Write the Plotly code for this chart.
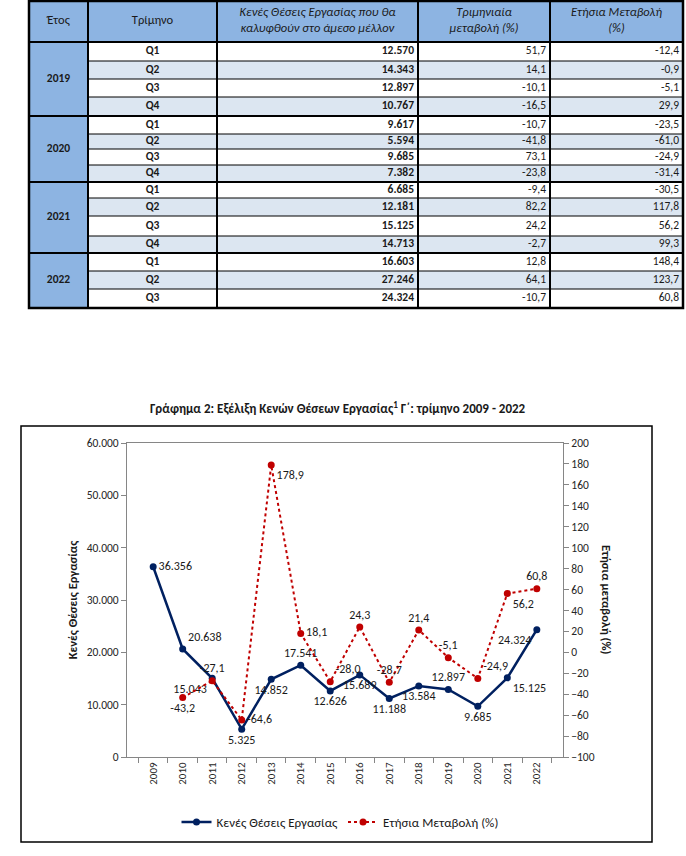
import plotly.graph_objects as go

# ---------------- data ----------------
YEARS = ["2009", "2010", "2011", "2012", "2013", "2014", "2015",
         "2016", "2017", "2018", "2019", "2020", "2021", "2022"]
VACANCIES = [36356, 20638, 15043, 5325, 14852, 17541, 12626,
             15689, 11188, 13584, 12897, 9685, 15125, 24324]
ANNUAL_CHANGE = [None, -43.2, -27.1, -64.6, 178.9, 18.1, -28.0,
                 24.3, -28.7, 21.4, -5.1, -24.9, 56.2, 60.8]

TABLE_HEADERS = ["Έτος", "Τρίμηνο",
                 "<i>Κενές Θέσεις Εργασίας που θα<br>καλυφθούν στο άμεσο μέλλον</i>",
                 "<i>Τριμηνιαία<br>μεταβολή (%)</i>",
                 "<i>Ετήσια Μεταβολή<br>(%)</i>"]
TABLE_YEARS = ["2019", "2020", "2021", "2022"]
TABLE_ROW_YEAR = ["2019", "2019", "2019", "2019", "2020", "2020", "2020", "2020",
                  "2021", "2021", "2021", "2021", "2022", "2022", "2022"]
TABLE_QUARTERS = ["Q1", "Q2", "Q3", "Q4", "Q1", "Q2", "Q3", "Q4",
                  "Q1", "Q2", "Q3", "Q4", "Q1", "Q2", "Q3"]
TABLE_VACANCIES = [12570, 14343, 12897, 10767, 9617, 5594, 9685, 7382,
                   6685, 12181, 15125, 14713, 16603, 27246, 24324]
TABLE_QOQ = [51.7, 14.1, -10.1, -16.5, -10.7, -41.8, 73.1, -23.8,
             -9.4, 82.2, 24.2, -2.7, 12.8, 64.1, -10.7]
TABLE_YOY = [-12.4, -0.9, -5.1, 29.9, -23.5, -61.0, -24.9, -31.4,
             -30.5, 117.8, 56.2, 99.3, 148.4, 123.7, 60.8]

# ---------------- layout constants (page pixels) ----------------
W, H = 686, 856


def px(x):
    return x / W


def py(y):
    return 1 - y / H


FONT = "Carlito, Lato, 'Noto Sans', sans-serif"
NAVY = "#002060"
RED = "#C00000"
HEAD_BLUE = "#8DB4E2"
ROW_BLUE = "#DCE6F1"
COL_EDGES = [29, 88, 217, 418, 550, 683]
TABLE_TOP = 1
HEADER_BOTTOM = 42
ROW_H = [19, 18, 18, 19, 18, 15, 16, 17, 16, 18, 20, 17, 18, 18, 19]

row_edges = [HEADER_BOTTOM]
for h in ROW_H:
    row_edges.append(row_edges[-1] + h)
row_mid = [(row_edges[i] + row_edges[i + 1]) / 2 for i in range(len(ROW_H))]
TABLE_BOTTOM = row_edges[-1]

fig = go.Figure()

# ---------------- table (drawn on a page-pixel axis pair x3/y3) ----------------
shapes = []
shapes.append(dict(type="rect", xref="x3", yref="y3", x0=COL_EDGES[0], x1=COL_EDGES[-1],
                   y0=TABLE_TOP, y1=HEADER_BOTTOM, fillcolor=HEAD_BLUE, line_width=0, layer="below"))
shapes.append(dict(type="rect", xref="x3", yref="y3", x0=COL_EDGES[0], x1=COL_EDGES[1],
                   y0=HEADER_BOTTOM, y1=TABLE_BOTTOM, fillcolor=HEAD_BLUE, line_width=0, layer="below"))
for i in range(len(ROW_H)):
    shapes.append(dict(type="rect", xref="x3", yref="y3", x0=COL_EDGES[1], x1=COL_EDGES[-1],
                       y0=row_edges[i], y1=row_edges[i + 1],
                       fillcolor=("white" if i % 2 == 0 else ROW_BLUE), line_width=0, layer="below"))
group_breaks = set()
for i in range(1, len(TABLE_ROW_YEAR)):
    if TABLE_ROW_YEAR[i] != TABLE_ROW_YEAR[i - 1]:
        group_breaks.add(i)
for i in range(1, len(ROW_H)):
    if i in group_breaks:
        shapes.append(dict(type="line", xref="x3", yref="y3", x0=COL_EDGES[0], x1=COL_EDGES[-1],
                           y0=row_edges[i], y1=row_edges[i], line=dict(color="black", width=2)))
    else:
        shapes.append(dict(type="line", xref="x3", yref="y3", x0=COL_EDGES[1], x1=COL_EDGES[-1],
                           y0=row_edges[i], y1=row_edges[i], line=dict(color="black", width=1)))
shapes.append(dict(type="line", xref="x3", yref="y3", x0=COL_EDGES[0], x1=COL_EDGES[-1],
                   y0=HEADER_BOTTOM, y1=HEADER_BOTTOM, line=dict(color="black", width=2)))
for xe in COL_EDGES[1:-1]:
    shapes.append(dict(type="line", xref="x3", yref="y3", x0=xe, x1=xe,
                       y0=TABLE_TOP, y1=TABLE_BOTTOM, line=dict(color="black", width=2)))
shapes.append(dict(type="rect", xref="x3", yref="y3", x0=COL_EDGES[0], x1=COL_EDGES[-1],
                   y0=TABLE_TOP, y1=TABLE_BOTTOM, line=dict(color="black", width=2.5)))

tfont = dict(family=FONT, size=11.5, color="#1a1a1a")
hfont = dict(family=FONT, size=12.5, color="#1a1a1a")
col_centers = [(COL_EDGES[i] + COL_EDGES[i + 1]) / 2 for i in range(5)]

fig.add_trace(go.Scatter(x=col_centers, y=[21] * 5, text=TABLE_HEADERS,
                         mode="text", textposition="middle center", textfont=hfont,
                         xaxis="x3", yaxis="y3", showlegend=False, hoverinfo="skip"))
year_y = []
for yr in TABLE_YEARS:
    idx = [i for i, v in enumerate(TABLE_ROW_YEAR) if v == yr]
    year_y.append((row_edges[idx[0]] + row_edges[idx[-1] + 1]) / 2)
fig.add_trace(go.Scatter(x=[col_centers[0]] * len(TABLE_YEARS), y=year_y,
                         text=["<b>%s</b>" % y for y in TABLE_YEARS],
                         mode="text", textposition="middle center", textfont=tfont,
                         xaxis="x3", yaxis="y3", showlegend=False, hoverinfo="skip"))
fig.add_trace(go.Scatter(x=[col_centers[1]] * len(TABLE_QUARTERS), y=row_mid,
                         text=["<b>%s</b>" % q for q in TABLE_QUARTERS],
                         mode="text", textposition="middle center", textfont=tfont,
                         xaxis="x3", yaxis="y3", showlegend=False, hoverinfo="skip"))
vac_txt = ["<b>%s</b>" % f"{v:,}".replace(",", ".") for v in TABLE_VACANCIES]
qoq_txt = [f"{v:.1f}".replace(".", ",") for v in TABLE_QOQ]
yoy_txt = [f"{v:.1f}".replace(".", ",") for v in TABLE_YOY]
for k, txt in zip([3, 4, 5], [vac_txt, qoq_txt, yoy_txt]):
    fig.add_trace(go.Scatter(x=[COL_EDGES[k] - 4] * len(txt), y=row_mid, text=txt,
                             mode="text", textposition="middle left", textfont=tfont,
                             xaxis="x3", yaxis="y3", showlegend=False, hoverinfo="skip"))

# ---------------- chart ----------------
blue_pos = ["middle right", "top right", "bottom left", "bottom center", "bottom center",
            "top center", "bottom center", "bottom center", "bottom center", "bottom center",
            "top center", "bottom center", "bottom right", "bottom left"]
red_pos = ["top center", "bottom center", "top center", "middle right", "bottom right",
           "middle right", "top right", "top center", "top center", "top center",
           "top center", "top right", "bottom right", "top center"]

red_x = [x for x, v in zip(YEARS, ANNUAL_CHANGE) if v is not None]
red_y = [v for v in ANNUAL_CHANGE if v is not None]
red_p = [p for p, v in zip(red_pos, ANNUAL_CHANGE) if v is not None]

lfont = dict(family=FONT, size=12, color="#1a1a1a")
fig.add_trace(go.Scatter(x=YEARS, y=VACANCIES, name="Κενές Θέσεις Εργασίας",
                         mode="lines+markers+text", texttemplate="%{y:,.0f}",
                         textposition=blue_pos, textfont=lfont,
                         line=dict(color=NAVY, width=2.5), marker=dict(color=NAVY, size=7),
                         xaxis="x", yaxis="y"))
fig.add_trace(go.Scatter(x=red_x, y=red_y, name="Ετήσια Μεταβολή (%)",
                         mode="lines+markers+text", texttemplate="%{y:.1f}",
                         textposition=red_p, textfont=lfont,
                         line=dict(color=RED, width=2, dash="dot"), marker=dict(color=RED, size=7),
                         xaxis="x", yaxis="y2"))

shapes.append(dict(type="rect", xref="paper", yref="paper", x0=px(21), x1=px(652),
                   y0=py(842), y1=py(426), line=dict(color="black", width=1.5)))

axis_grey = "#868686"
tick_font = dict(family=FONT, size=11.5, color="#262626")
fig.update_layout(
    width=W, height=H, margin=dict(l=0, r=0, t=0, b=0, autoexpand=False),
    paper_bgcolor="white", plot_bgcolor="rgba(0,0,0,0)",
    separators=",.",
    font=dict(family=FONT, color="#1a1a1a"),
    shapes=shapes,
    xaxis=dict(domain=[px(127), px(563)], anchor="y", type="category", automargin=False,
               tickangle=-90, ticks="outside", tickson="boundaries", ticklen=5,
               tickcolor=axis_grey, showline=True, linecolor=axis_grey, linewidth=1,
               mirror=True, showgrid=False, zeroline=False,
               tickfont=dict(family=FONT, size=11, color="#262626")),
    yaxis=dict(domain=[py(757), py(443)], anchor="x", range=[0, 60000], automargin=False,
               dtick=10000, tickformat=",.0f", ticks="outside", ticklen=5,
               tickcolor=axis_grey, showline=True, linecolor=axis_grey, linewidth=1,
               showgrid=False, zeroline=False, tickfont=tick_font,
               title=dict(text="<b>Κενές Θέσεις Εργασίας</b>", standoff=6,
                          font=dict(family=FONT, size=12.5, color="#1a1a1a"))),
    yaxis2=dict(overlaying="y", side="right", anchor="x", range=[-100, 200], dtick=20,
                automargin=False,
                ticks="outside", ticklen=5, tickcolor=axis_grey, showline=True,
                linecolor=axis_grey, linewidth=1, showgrid=False, zeroline=False,
                tickfont=tick_font),
    xaxis3=dict(domain=[0, 1], anchor="y3", range=[0, W], visible=False,
                fixedrange=True, automargin=False),
    yaxis3=dict(domain=[0, 1], anchor="x3", range=[H, 0], visible=False,
                fixedrange=True, automargin=False),
    legend=dict(orientation="h", x=px(340), xanchor="center", y=py(822), yanchor="middle",
                font=dict(family=FONT, size=13, color="#1a1a1a"), bgcolor="rgba(0,0,0,0)"),
    annotations=[
        dict(text="<b>Γράφημα 2: Εξέλιξη Κενών Θέσεων Εργασίας<sup>1</sup> Γ΄: τρίμηνο 2009 - 2022</b>",
             xref="paper", yref="paper", x=px(338), y=py(408), showarrow=False,
             xanchor="center", yanchor="middle", font=dict(family=FONT, size=13, color="#1a1a1a")),
        dict(text="<b>Ετήσια μεταβολή (%)</b>", xref="paper", yref="paper",
             x=px(607), y=py(600), showarrow=False, textangle=90,
             xanchor="center", yanchor="middle", font=dict(family=FONT, size=12.5, color="#1a1a1a")),
    ],
)

fig.write_html("out.html", config={"displayModeBar": False},
               post_script="document.body.style.margin='0';document.body.style.overflow='hidden';")
